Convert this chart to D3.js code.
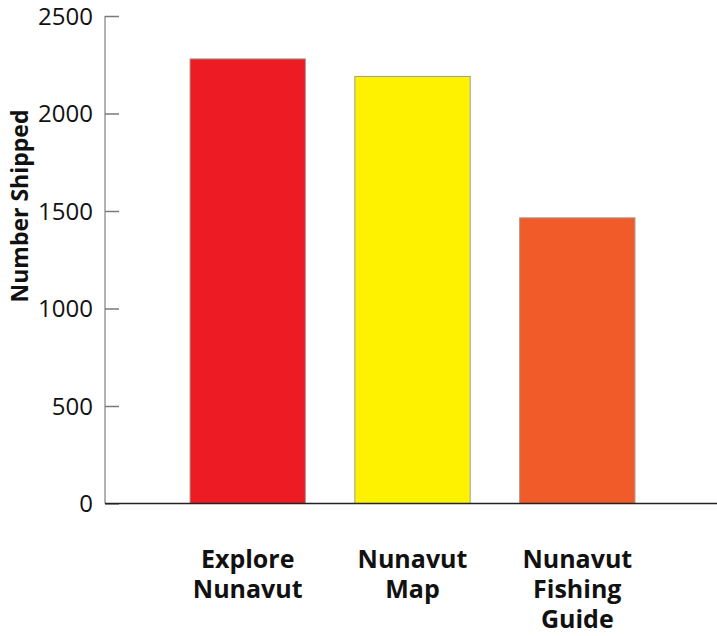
<!DOCTYPE html>
<html>
<head>
<meta charset="utf-8">
<script src="https://cdn.jsdelivr.net/npm/d3@7"></script>
<style>
  html, body { margin: 0; padding: 0; background: #fff; }
  svg { display: block; }
  text { font-family: "Open Sans", "Noto Sans", sans-serif; }
</style>
</head>
<body>
<svg id="chart" width="717" height="636"></svg>
<script>
// Shipments by publication
const categories = [["Explore", "Nunavut"], ["Nunavut", "Map"], ["Nunavut", "Fishing", "Guide"]];
const shipped = [2280, 2190, 1465];
const barColors = ["#ed1c24", "#fff200", "#f15a29"];
const yTicks = [0, 500, 1000, 1500, 2000, 2500];
const yTitle = "Number Shipped";

const svg = d3.select("#chart");
const W = 717;

const y = d3.scaleLinear().domain([0, 2500]).range([503.5, 16]);
const x = d3.scaleBand()
  .domain(d3.range(categories.length))
  .range([165.3, 659.7])
  .paddingInner(0.3)
  .paddingOuter(0.15);

const axisX = 105;

// Bars
svg.append("g").selectAll("rect")
  .data(shipped)
  .join("rect")
  .attr("x", (d, i) => x(i))
  .attr("y", d => y(d))
  .attr("width", x.bandwidth())
  .attr("height", d => y(0) - y(d))
  .attr("fill", (d, i) => barColors[i])
  .attr("stroke", "#a39d8f")
  .attr("stroke-width", 1);

// Y axis: ticks pointing inward, labels on the left
const yAxis = d3.axisRight(y).tickValues(yTicks).tickSize(14).tickFormat(d3.format("d"));
const gy = svg.append("g").attr("transform", `translate(${axisX},0)`).call(yAxis);
gy.select(".domain").attr("stroke", "#9a9a9a").attr("stroke-width", 1.5).attr("d", `M0,${y(2500)}V${y(0)}`);
gy.selectAll(".tick line").attr("stroke", "#7a7a7a").attr("stroke-width", 1.5);
gy.selectAll(".tick text")
  .attr("x", -12)
  .attr("dy", "0.35em")
  .attr("text-anchor", "end")
  .attr("fill", "#111")
  .style("font-size", "24px")
  .style("font-family", "'Open Sans', sans-serif");

// Baseline
svg.append("line")
  .attr("x1", axisX).attr("x2", W)
  .attr("y1", y(0)).attr("y2", y(0))
  .attr("stroke", "#222").attr("stroke-width", 1.5);

// Category labels
const labels = svg.append("g").selectAll("text")
  .data(categories)
  .join("text")
  .attr("text-anchor", "middle")
  .attr("font-weight", "bold")
  .style("font-size", "25px")
  .attr("fill", "#111")
  .attr("transform", (d, i) => `translate(${x(i) + x.bandwidth() / 2},568)`);
labels.selectAll("tspan")
  .data(d => d)
  .join("tspan")
  .attr("x", 0)
  .attr("y", (d, j) => j * 30)
  .text(d => d);

// Y axis title
svg.append("text")
  .attr("transform", "translate(27.5,206) rotate(-90)")
  .attr("text-anchor", "middle")
  .attr("font-weight", "bold")
  .style("font-size", "23px")
  .attr("fill", "#111")
  .text(yTitle);
</script>
</body>
</html>
